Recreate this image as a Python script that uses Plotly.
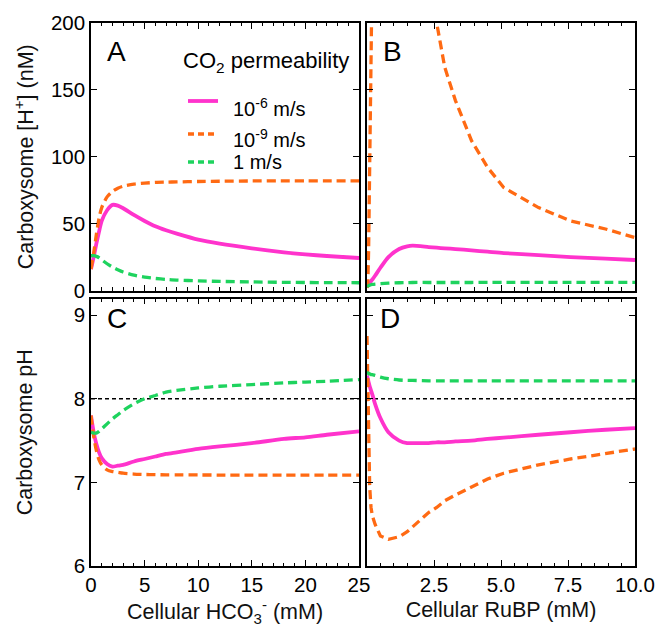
import plotly.graph_objects as go
from plotly.subplots import make_subplots

# ---------------- data ----------------
x_hco3 = [0, 0.25, 0.5, 0.75, 1, 1.5, 2, 2.5, 3, 4, 5, 6, 7, 8, 10, 12, 15, 18, 20, 22, 25]

h_a_1e6 = [16, 25, 35, 44, 52, 60, 64, 63.5, 61.5, 56.5, 52, 48, 45, 42.5, 38, 35, 31.5, 28.5, 27, 25.8, 24.3]
h_a_1e9 = [16, 28, 42, 54, 62, 70, 74, 76.5, 78, 79.5, 80.3, 80.8, 81, 81.2, 81.5, 81.7, 81.9, 82, 82, 82, 82]
h_a_1 = [26, 26, 25.5, 24.5, 23, 20, 17.5, 15.5, 13.8, 11.5, 10, 9, 8.3, 7.8, 7.2, 6.8, 6.4, 6.1, 6.0, 5.9, 5.8]

ph_c_1e6 = [7.80, 7.60, 7.46, 7.36, 7.29, 7.22, 7.19, 7.20, 7.21, 7.25, 7.28, 7.31, 7.34, 7.36, 7.40, 7.43, 7.47, 7.52, 7.54, 7.57, 7.61]
ph_c_1e9 = [7.80, 7.55, 7.38, 7.27, 7.21, 7.15, 7.13, 7.12, 7.11, 7.10, 7.095, 7.093, 7.09, 7.09, 7.089, 7.088, 7.087, 7.086, 7.086, 7.086, 7.086]
ph_c_1 = [7.60, 7.59, 7.59, 7.61, 7.64, 7.70, 7.76, 7.81, 7.86, 7.94, 8.00, 8.04, 8.08, 8.10, 8.13, 8.15, 8.17, 8.19, 8.20, 8.21, 8.23]

x_rubp = [0, 0.03, 0.06, 0.1, 0.15, 0.2, 0.3, 0.5, 0.8, 1.2, 1.5, 1.7, 2.3, 2.6, 2.9, 3.3, 3.9, 4.5, 5.1, 6.4, 7.6, 8.9, 10]

h_b_1e6 = [3, 3.8, 4.6, 5.5, 7, 8.2, 11, 17, 25, 31, 33, 33.5, 32.5, 32, 31.5, 31, 30, 29, 28, 26.5, 25, 23.8, 22.8]
h_b_1e9 = [1.8, 6, 30, 110, 200, 250, 320, 440, 480, 445, 390, 340, 230, 200, 167, 142, 112, 92, 77, 62, 52, 46, 39.5]
h_b_1 = [3, 3.3, 3.6, 4, 4.3, 4.5, 4.8, 5.1, 5.5, 5.8, 5.9, 6, 6, 6, 6, 6, 6, 6.05, 6.05, 6.1, 6.1, 6.1, 6.1]

ph_d_1e6 = [8.28, 8.24, 8.20, 8.15, 8.10, 8.05, 7.94, 7.77, 7.60, 7.50, 7.47, 7.47, 7.47, 7.48, 7.48, 7.49, 7.50, 7.52, 7.535, 7.57, 7.60, 7.63, 7.65]
ph_d_1e9 = [8.75, 8.2, 7.5, 6.95, 6.70, 6.60, 6.50, 6.36, 6.32, 6.35, 6.41, 6.47, 6.64, 6.70, 6.78, 6.85, 6.95, 7.04, 7.11, 7.21, 7.28, 7.34, 7.40]
ph_d_1 = [8.31, 8.31, 8.30, 8.30, 8.29, 8.29, 8.28, 8.26, 8.24, 8.225, 8.22, 8.22, 8.215, 8.215, 8.215, 8.215, 8.215, 8.215, 8.215, 8.215, 8.215, 8.215, 8.215]

ph_reference = 8

legend_title = "CO<sub>2</sub> permeability"
series_names = ["10<sup>-6</sup> m/s", "10<sup>-9</sup> m/s", "1 m/s"]
panel_letters = ["A", "B", "C", "D"]

# ---------------- style ----------------
MAG = "#FF33CC"
ORA = "#FF6A13"
GRN = "#1ED35E"
FONT = "Liberation Sans, Arial, sans-serif"
styles = [
    dict(color=MAG, width=3.8),
    dict(color=ORA, width=3.3, dash="9px,5px"),
    dict(color=GRN, width=3.3, dash="9px,5px"),
]

# body margin is removed in the page (post_script), plot area at x 91..635, y 23..566
W, H = 656, 631
ML, MR, MT, MB = 91, 21, 23, 65
PW, PH = W - ML - MR, H - MT - MB


def px(X):
    return (X - ML) / PW


def py(Y):
    return (H - MB - Y) / PH


fig = make_subplots(rows=2, cols=2, horizontal_spacing=8 / PW, vertical_spacing=8 / PH)

panels = [
    (1, 1, x_hco3, [h_a_1e6, h_a_1e9, h_a_1]),
    (1, 2, x_rubp, [h_b_1e6, h_b_1e9, h_b_1]),
    (2, 1, x_hco3, [ph_c_1e6, ph_c_1e9, ph_c_1]),
    (2, 2, x_rubp, [ph_d_1e6, ph_d_1e9, ph_d_1]),
]

for idx, (r, c, xs, ys_list) in enumerate(panels):
    if r == 2:
        fig.add_trace(go.Scatter(x=[xs[0], xs[-1]], y=[ph_reference, ph_reference], mode="lines",
                                 line=dict(color="black", width=1.6, dash="4px,3px"),
                                 showlegend=False, hoverinfo="skip"), row=r, col=c)
    for k, ys in enumerate(ys_list):
        ln = dict(styles[k])
        if not (c == 2 and k == 1):
            ln.update(shape="spline", smoothing=0.7)
        fig.add_trace(go.Scatter(x=xs, y=ys, mode="lines", name=series_names[k],
                                 line=ln, showlegend=False), row=r, col=c)

axis_common = dict(showline=True, linecolor="black", linewidth=1.5, mirror="ticks",
                   ticks="inside", ticklen=6, tickwidth=1.3, tickcolor="black",
                   showgrid=False, zeroline=False, automargin=False,
                   tickfont=dict(family=FONT, size=20.5, color="black"))

TFONT = dict(family=FONT, size=21.5, color="#111")

# x axes
fig.update_xaxes(**axis_common)
fig.update_xaxes(range=[0, 25], dtick=5, tick0=0,
                 minor=dict(dtick=1, tick0=0, ticks="inside", ticklen=3.5, tickcolor="black", tickwidth=1.2),
                 col=1)
fig.update_xaxes(range=[0, 10], tickmode="array", tickvals=[0, 2.5, 5, 7.5, 10],
                 ticktext=["", "2.5", "5.0", "7.5", "10.0"],
                 minor=dict(dtick=0.5, tick0=0, ticks="inside", ticklen=3.5, tickcolor="black", tickwidth=1.2),
                 col=2)
fig.update_xaxes(showticklabels=False, row=1)
fig.update_xaxes(title=dict(text="Cellular HCO<sub>3</sub><sup>-</sup> (mM)", font=TFONT, standoff=7),
                 row=2, col=1)
fig.update_xaxes(title=dict(text="Cellular RuBP (mM)", font=TFONT, standoff=7),
                 row=2, col=2)

# y axes
fig.update_yaxes(**axis_common)
fig.update_yaxes(range=[0, 200], dtick=50, tick0=0, row=1)
fig.update_yaxes(range=[6, 9.2], dtick=1, tick0=6, row=2)
fig.update_yaxes(showticklabels=False, col=2)
fig.update_yaxes(title=dict(text="Carboxysome [H<sup>+</sup>] (nM)", font=TFONT, standoff=11),
                 row=1, col=1)
fig.update_yaxes(title=dict(text="Carboxysome pH", font=TFONT, standoff=35),
                 row=2, col=1)

# panel letters
letter_pos = [("x domain", "y domain", 0.052, 0.958), ("x2 domain", "y2 domain", 0.052, 0.958),
              ("x3 domain", "y3 domain", 0.052, 0.99), ("x4 domain", "y4 domain", 0.04, 0.99)]
for letter, (xr, yr, lx, ly) in zip(panel_letters, letter_pos):
    fig.add_annotation(text=letter, xref=xr, yref=yr, x=lx, y=ly, xanchor="left", yanchor="top",
                       showarrow=False, font=dict(family=FONT, size=28, color="black"))

# legend (drawn manually inside panel A)
fig.add_annotation(text=legend_title, xref="paper", yref="paper", x=px(181), y=py(62),
                   xanchor="left", yanchor="middle", showarrow=False,
                   font=dict(family=FONT, size=22, color="black"))
legend_rows = [(101, 107), (134, 138), (162, 162)]
legend_dash = [None, "6px,4px", "6px,4px"]
for k, (ly_line, ly_text) in enumerate(legend_rows):
    ln = dict(color=styles[k]["color"], width=styles[k]["width"])
    if legend_dash[k]:
        ln["dash"] = legend_dash[k]
    fig.add_shape(type="line", xref="paper", yref="paper", x0=px(188), x1=px(218),
                  y0=py(ly_line), y1=py(ly_line), line=ln)
    fig.add_annotation(text=series_names[k], xref="paper", yref="paper", x=px(231), y=py(ly_text),
                       xanchor="left", yanchor="middle", showarrow=False,
                       font=dict(family=FONT, size=20, color="black"))

fig.update_layout(
    width=W, height=H,
    margin=dict(l=ML, r=MR, t=MT, b=MB, autoexpand=False),
    plot_bgcolor="white", paper_bgcolor="white",
    font=dict(family=FONT, size=20, color="black"),
    showlegend=False,
)

fig.write_html("out.html", config={"displayModeBar": False},
               post_script="document.body.style.margin='0px';document.body.style.overflow='hidden';"
                           "document.documentElement.style.overflow='hidden';")
